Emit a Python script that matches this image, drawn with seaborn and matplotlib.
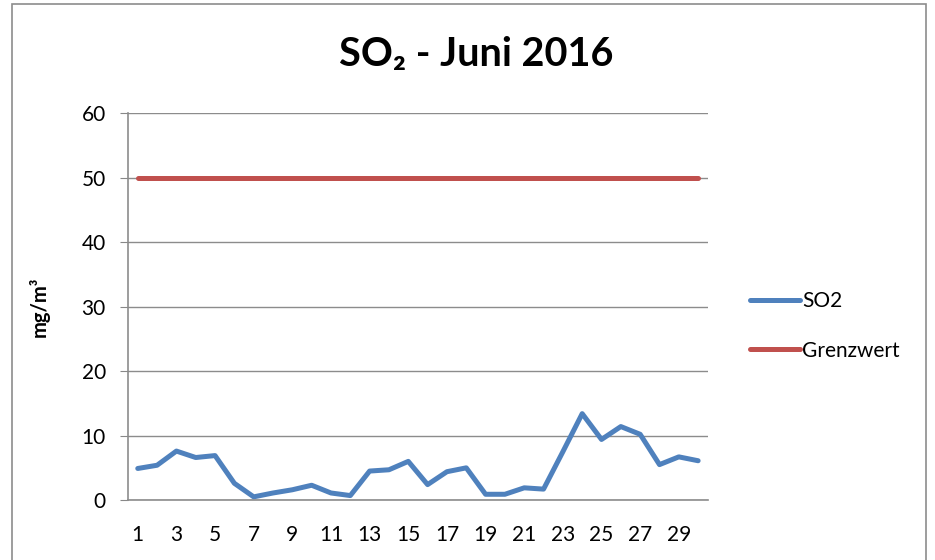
import pandas as pd
import numpy as np
import matplotlib.pyplot as plt
import seaborn as sns
from matplotlib.patches import Rectangle

# data
days = list(range(1, 31))
so2 = [4.9, 5.4, 7.6, 6.6, 6.9, 2.6, 0.5, 1.1, 1.6, 2.3,
       1.1, 0.7, 4.5, 4.7, 6.0, 2.4, 4.4, 5.0, 0.9, 0.9,
       1.9, 1.7, 7.5, 13.4, 9.4, 11.4, 10.2, 5.5, 6.7, 6.1]
grenzwert = [50] * 30
xticks = list(range(1, 31, 2))
yticks = [0, 10, 20, 30, 40, 50, 60]

df = pd.DataFrame({
    "Tag": days * 2,
    "Wert": so2 + grenzwert,
    "Reihe": ["SO2"] * 30 + ["Grenzwert"] * 30,
})

sns.set_style("white")
plt.rcParams['font.family'] = ['Lato', 'DejaVu Sans']
plt.rcParams['text.color'] = 'black'
plt.rcParams['axes.labelcolor'] = 'black'
plt.rcParams['xtick.color'] = 'black'
plt.rcParams['ytick.color'] = 'black'

fig = plt.figure(figsize=(9.35, 5.6), dpi=100)
ax = fig.add_axes([0.137, 0.107, 0.620, 0.691])

sns.lineplot(data=df, x="Tag", y="Wert", hue="Reihe",
             palette={"SO2": "#4F81BD", "Grenzwert": "#C0504D"},
             linewidth=3.6, ax=ax)

ax.set_xlim(0.5, 30.5)
ax.set_ylim(0, 60)
ax.set_xticks(xticks)
ax.set_yticks(yticks)
ax.tick_params(axis='x', length=0, labelsize=15, pad=18)
ax.tick_params(axis='y', length=6, color='#888888', labelcolor='black', labelsize=15,
               pad=10, direction='out', left=True)
ax.grid(axis='y', color='#8c8c8c', linewidth=1)
ax.set_axisbelow(True)
for side in ['top', 'right']:
    ax.spines[side].set_visible(False)
for side in ['left', 'bottom']:
    ax.spines[side].set_color('#8c8c8c')
    ax.spines[side].set_linewidth(1.2)

ax.set_xlabel("")
ax.set_ylabel("mg/m³", fontsize=14.5, fontweight='bold', labelpad=23)

fig.text(0.509, 0.902, "SO₂ - Juni 2016", ha='center', va='center',
         fontsize=28.5, fontweight='bold', color='black')

leg = ax.legend(loc='center left', bbox_to_anchor=(1.041, 0.45), frameon=False,
                fontsize=15, handlelength=2.4, handletextpad=0.1, labelspacing=1.4)

# outer chart border
fig.patches.append(Rectangle((0.013, -0.05), 0.977, 1.043, transform=fig.transFigure,
                             fill=False, edgecolor='#8c8c8c', linewidth=1.2))

fig.savefig("out.png", dpi=100)
